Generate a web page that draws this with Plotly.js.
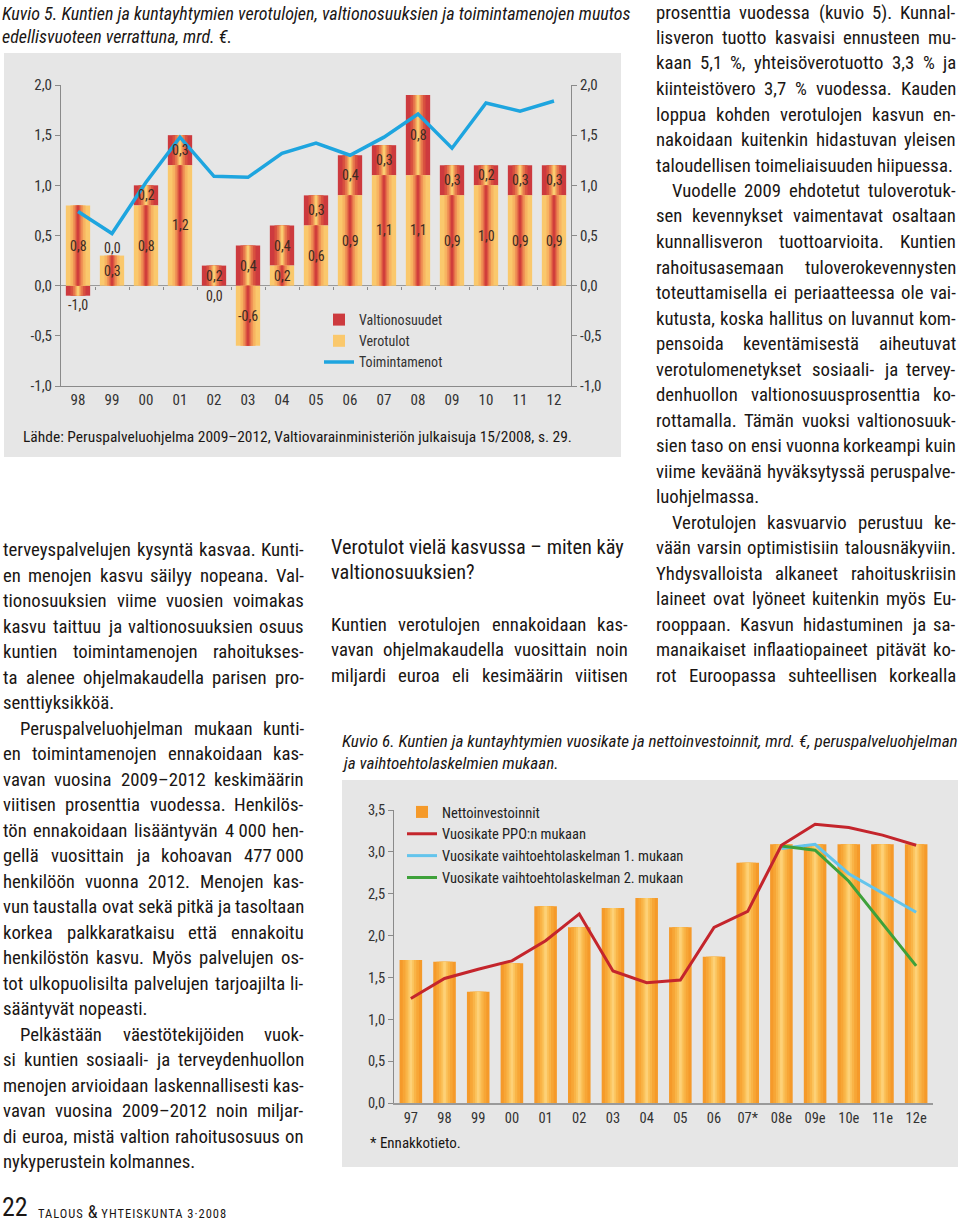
<!DOCTYPE html>
<html><head><meta charset="utf-8">
<script src="https://cdn.plot.ly/plotly-3.0.1.min.js"></script>
<style>html,body{margin:0;padding:0;background:#fff}#chart{width:960px;height:1223px}</style>
</head><body><div id="chart"></div>
<script>
// ---------- DATA: Kuvio 5 ----------
const years5 = ['98','99','00','01','02','03','04','05','06','07','08','09','10','11','12'];
const verotulot = [0.8,0.3,0.8,1.2,0.0,-0.6,0.2,0.6,0.9,1.1,1.1,0.9,1.0,0.9,0.9];
const valtionosuudet = [-0.1,0.0,0.2,0.3,0.2,0.4,0.4,0.3,0.4,0.3,0.8,0.3,0.2,0.3,0.3];
const verotulotLabels = ['0,8','0,3','0,8','1,2','0,0','-0,6','0,2','0,6','0,9','1,1','1,1','0,9','1,0','0,9','0,9'];
const valtionosuudetLabels = ['-1,0','0,0','0,2','0,3','0,2','0,4','0,4','0,3','0,4','0,3','0,8','0,3','0,2','0,3','0,3'];
const toimintamenot = [0.74,0.52,1.03,1.48,1.09,1.08,1.32,1.42,1.30,1.48,1.71,1.37,1.82,1.74,1.84];
const yTickVals5 = [-1,-0.5,0,0.5,1,1.5,2];
const yTickText5 = ['-1,0','-0,5','0,0','0,5','1,0','1,5','2,0'];

// ---------- DATA: Kuvio 6 ----------
const years6 = ['97','98','99','00','01','02','03','04','05','06','07*','08e','09e','10e','11e','12e'];
const nettoinvestoinnit = [1.71,1.69,1.33,1.67,2.35,2.10,2.33,2.45,2.10,1.75,2.87,3.09,3.09,3.09,3.09,3.09];
const vuosikatePPO = [1.25,1.49,1.60,1.70,1.94,2.26,1.58,1.44,1.47,2.10,2.29,3.08,3.33,3.29,3.20,3.08];
const vuosikateVaiht1 = [null,null,null,null,null,null,null,null,null,null,null,3.04,3.09,2.74,2.51,2.28];
const vuosikateVaiht2 = [null,null,null,null,null,null,null,null,null,null,null,3.07,3.02,2.65,2.15,1.64];
const yTickVals6 = [0,0.5,1,1.5,2,2.5,3,3.5];
const yTickText6 = ['0,0','0,5','1,0','1,5','2,0','2,5','3,0','3,5'];

// ---------- TEXT ----------
const caption5 = ['Kuvio 5. Kuntien ja kuntayhtymien verotulojen, valtionosuuksien ja toimintamenojen muutos',
                  'edellisvuoteen verrattuna, mrd. €.'];
const source5 = 'Lähde: Peruspalveluohjelma 2009–2012, Valtiovarainministeriön julkaisuja 15/2008, s. 29.';
const caption6 = ['Kuvio 6. Kuntien ja kuntayhtymien vuosikate ja nettoinvestoinnit, mrd. €, peruspalveluohjelman',
                  'ja vaihtoehtolaskelmien mukaan.'];
const footnote6 = '* Ennakkotieto.';
const heading = ['Verotulot vielä kasvussa – miten käy', 'valtionosuuksien?'];
const leftParas = [
 {indent:false, end:true, lines:[
  'terveyspalvelujen kysyntä kasvaa. Kunti-',
  'en menojen kasvu säilyy nopeana. Val-',
  'tionosuuksien viime vuosien voimakas',
  'kasvu taittuu ja valtionosuuksien osuus',
  'kuntien toimintamenojen rahoitukses-',
  'ta alenee ohjelmakaudella parisen pro-',
  'senttiyksikköä.']},
 {indent:true, end:true, lines:[
  'Peruspalveluohjelman mukaan kunti-',
  'en toimintamenojen ennakoidaan kas-',
  'vavan vuosina 2009–2012 keskimäärin',
  'viitisen prosenttia vuodessa. Henkilös-',
  'tön ennakoidaan lisääntyvän 4\u00A0000 hen-',
  'gellä vuosittain ja kohoavan 477\u00A0000',
  'henkilöön vuonna 2012. Menojen kas-',
  'vun taustalla ovat sekä pitkä ja tasoltaan',
  'korkea palkkaratkaisu että ennakoitu',
  'henkilöstön kasvu. Myös palvelujen os-',
  'tot ulkopuolisilta palvelujen tarjoajilta li-',
  'sääntyvät nopeasti.']},
 {indent:true, end:true, lines:[
  'Pelkästään väestötekijöiden vuok-',
  'si kuntien sosiaali- ja terveydenhuollon',
  'menojen arvioidaan laskennallisesti kas-',
  'vavan vuosina 2009–2012 noin miljar-',
  'di euroa, mistä valtion rahoitusosuus on',
  'nykyperustein kolmannes.']}
];
const middleParas = [
 {indent:false, end:false, lines:[
  'Kuntien verotulojen ennakoidaan kas-',
  'vavan ohjelmakaudella vuosittain noin',
  'miljardi euroa eli kesimäärin viitisen']}
];
const rightParas = [
 {indent:false, end:true, lines:[
  'prosenttia vuodessa (kuvio 5). Kunnal-',
  'lisveron tuotto kasvaisi ennusteen mu-',
  'kaan 5,1 %, yhteisöverotuotto 3,3 % ja',
  'kiinteistövero 3,7 % vuodessa. Kauden',
  'loppua kohden verotulojen kasvun en-',
  'nakoidaan kuitenkin hidastuvan yleisen',
  'taloudellisen toimeliaisuuden hiipuessa.']},
 {indent:true, end:true, lines:[
  'Vuodelle 2009 ehdotetut tuloverotuk-',
  'sen kevennykset vaimentavat osaltaan',
  'kunnallisveron tuottoarvioita. Kuntien',
  'rahoitusasemaan tuloverokevennysten',
  'toteuttamisella ei periaatteessa ole vai-',
  'kutusta, koska hallitus on luvannut kom-',
  'pensoida keventämisestä aiheutuvat',
  'verotulomenetykset sosiaali- ja tervey-',
  'denhuollon valtionosuusprosenttia ko-',
  'rottamalla. Tämän vuoksi valtionosuuk-',
  'sien taso on ensi vuonna korkeampi kuin',
  'viime keväänä hyväksytyssä peruspalve-',
  'luohjelmassa.']},
 {indent:true, end:false, lines:[
  'Verotulojen kasvuarvio perustuu ke-',
  'vään varsin optimistisiin talousnäkyviin.',
  'Yhdysvalloista alkaneet rahoituskriisin',
  'laineet ovat lyöneet kuitenkin myös Eu-',
  'rooppaan. Kasvun hidastuminen ja sa-',
  'manaikaiset inflaatiopaineet pitävät ko-',
  'rot Euroopassa suhteellisen korkealla']}
];

// ---------- FONT ----------
const W = 960, H = 1223;
const cv = document.createElement('canvas').getContext('2d');
function hasFont(f){
  const t = 'abcdefghijklmnopqrstuvwxyz ÄÖäö 0123456789';
  cv.font = '40px monospace'; const a = cv.measureText(t).width;
  cv.font = '40px "' + f + '", monospace'; const b = cv.measureText(t).width;
  cv.font = '40px serif'; const a2 = cv.measureText(t).width;
  cv.font = '40px "' + f + '", serif'; const b2 = cv.measureText(t).width;
  return a !== b || a2 !== b2;
}
const FAM = ['Liberation Sans Narrow','Roboto Condensed','DejaVu Sans Condensed','Open Sans Condensed','Lato','Roboto','Liberation Sans'].find(hasFont) || 'Liberation Sans';
const FAMCSS = FAM + ', sans-serif';
const TEXT = '#1a1614';
function measure(t, size, italic){
  cv.font = (italic ? 'italic ' : '') + '100px "' + FAM + '", sans-serif';
  return cv.measureText(t).width * size / 100;
}

// ---------- TEXT PLACEMENT ----------
const ann = [];
function txt(t, x, y, size, o){
  o = o || {};
  ann.push({text: o.italic ? '<i>' + t + '</i>' : t, xref:'paper', yref:'paper',
    x: x / W, y: 1 - y / H, xanchor: o.anchor || 'left', yanchor: 'middle',
    showarrow: false, borderpad: 0, borderwidth: 0,
    font: {family: FAMCSS, size: size, color: o.color || TEXT}});
}
function justify(line, x0, x1, y, size){
  const words = line.split(' ');
  if (words.length < 2){ txt(line, x0, y, size); return; }
  const ws = words.map(w => measure(w, size, false));
  const gap = (x1 - x0 - ws.reduce((a, b) => a + b, 0)) / (words.length - 1);
  let x = x0;
  words.forEach((w, k) => {
    if (k === words.length - 1) txt(w, x1, y, size, {anchor: 'right'});
    else txt(w, x, y, size);
    x += ws[k] + gap;
  });
}
function fitBody(paras, width, indent, target){
  let s = target;
  paras.forEach(p => p.lines.forEach((l, k) => {
    if (k === p.lines.length - 1 && p.end) return;
    const words = l.split(' ');
    const sum = words.reduce((a, w) => a + measure(w, 1, false), 0);
    const avail = width - (k === 0 && p.indent ? indent : 0);
    s = Math.min(s, avail / (sum + 0.22 * (words.length - 1)));
  }));
  return s;
}
function fitExact(line, width, maxSize, italic){
  return Math.min(maxSize, width / measure(line, 1, italic));
}
function column(paras, x0, x1, y0, lh, size, indent){
  let y = y0;
  paras.forEach(p => p.lines.forEach((l, k) => {
    const xs = (k === 0 && p.indent) ? x0 + indent : x0;
    if (k === p.lines.length - 1 && p.end) txt(l, xs, y, size);
    else justify(l, xs, x1, y, size);
    y += lh;
  }));
}

const bodySize = Math.min(fitBody(leftParas, 301, 17, 19), fitBody(rightParas, 300, 15.5, 19), fitBody(middleParas, 297, 0, 19));
column(leftParas, 3, 304, 550, 25.5, bodySize, 17);
column(rightParas, 656, 956, 12.5, 25.5, bodySize, 15.5);
column(middleParas, 331, 628, 625, 25.3, bodySize, 0);

const hSize = fitExact(heading[0], 293, 23, false);
txt(heading[0], 331, 547, hSize); txt(heading[1], 331, 572, hSize);

const c5 = fitExact(caption5[0], 634, 18, true);
txt(caption5[0], 2, 13, c5, {italic:true}); txt(caption5[1], 2, 36, c5, {italic:true});
const c6 = fitExact(caption6[0], 616, 18, true);
txt(caption6[0], 342, 741, c6, {italic:true}); txt(caption6[1], 342, 763, c6, {italic:true});

txt(source5, 23, 437, fitExact(source5, 549, 16, false));
txt(footnote6, 370, 1143, 15);
txt('22', 2, 1207, 26);
ann.push({text:'<span style="font-size:12.5px;letter-spacing:1px">TALOUS </span><span style="font-size:18px">&amp;</span><span style="font-size:12.5px;letter-spacing:1px"> YHTEISKUNTA 3·2008</span>',
  xref:'paper', yref:'paper', x: 38 / W, y: 1 - 1211 / H, xanchor:'left', yanchor:'middle', showarrow:false,
  borderpad:0, borderwidth:0, font:{family: FAMCSS, size: 12.5, color: TEXT}});

// ---------- BAR LABELS (Kuvio 5) ----------
const valBase = valtionosuudet.map((v, i) => v >= 0 ? Math.max(verotulot[i], 0) : Math.min(verotulot[i], 0));
years5.forEach((yr, i) => {
  const v = verotulot[i];
  const yv = Math.abs(v) >= 0.15 ? v / 2 : -0.1;
  ann.push({text: verotulotLabels[i], xref:'x', yref:'y', x: i, y: yv, showarrow:false,
    font:{family: FAMCSS, size: 14, color:'#3b2b22'}});
  const w = valtionosuudet[i], b = valBase[i];
  let yw;
  if (Math.abs(w) >= 0.15) yw = b + w / 2;
  else if (w < 0) yw = b + w - 0.09;
  else yw = b + 0.08;
  ann.push({text: valtionosuudetLabels[i], xref:'x', yref:'y', x: i, y: yw, showarrow:false,
    font:{family: FAMCSS, size: 14, color:'#3b2b22'}});
});

// ---------- TRACES ----------
function gradientBars(o){
  return o.colors.map((c, k) => ({
    type:'bar', x: o.x, y: o.y, base: o.base, xaxis: o.xaxis, yaxis: o.yaxis,
    width: o.width * o.fracs[k], marker:{color: c, line:{width:0}},
    name: o.name, legendgroup: o.group, showlegend: k === 0, legend: o.legend,
    legendrank: o.rank, hoverinfo:'skip'
  }));
}
const fr5 = [1, 0.62, 0.42, 0.27, 0.15, 0.06];
const traces = [];
traces.push(...gradientBars({x: years5, y: valtionosuudet, base: valBase, xaxis:'x', yaxis:'y', width:0.715,
  colors:['#cd3a3e','#d8503f','#e4714a','#ef9456','#f7b663','#fbd478'], fracs: fr5,
  name:'Valtionosuudet', group:'val', legend:'legend', rank:1}));
traces.push(...gradientBars({x: years5, y: verotulot, base: years5.map(() => 0), xaxis:'x', yaxis:'y', width:0.715,
  colors:['#fac86c','#f7b461','#f09556','#e5714a','#d9503f','#cc393a'], fracs: fr5,
  name:'Verotulot', group:'vero', legend:'legend', rank:2}));
traces.push({type:'scatter', mode:'lines', x: years5, y: toimintamenot, xaxis:'x', yaxis:'y',
  line:{color:'#1ea5df', width:3.5}, name:'Toimintamenot', legendgroup:'toim', legend:'legend', legendrank:3, hoverinfo:'skip'});
// helper traces for the right-hand axis and the zero-line ticks
traces.push({type:'scatter', mode:'markers', x:[years5[0]], y:[0], xaxis:'x', yaxis:'y3', marker:{opacity:0}, showlegend:false, hoverinfo:'skip'});
traces.push({type:'scatter', mode:'markers', x:[0], y:[0], xaxis:'x3', yaxis:'y', marker:{opacity:0}, showlegend:false, hoverinfo:'skip'});

traces.push(...gradientBars({x: years6, y: nettoinvestoinnit, xaxis:'x2', yaxis:'y2', width:0.67,
  colors:['#f59a2a','#f7a636','#f9b447','#fbc35c','#fdd177'], fracs:[1, 0.72, 0.48, 0.28, 0.12],
  name:'Nettoinvestoinnit', group:'netto', legend:'legend2', rank:1}));
traces.push({type:'scatter', mode:'lines', x: years6, y: vuosikateVaiht1, xaxis:'x2', yaxis:'y2',
  line:{color:'#63c4ec', width:3}, name:'Vuosikate vaihtoehtolaskelman 1. mukaan', legendgroup:'v1', legend:'legend2', legendrank:3, hoverinfo:'skip'});
traces.push({type:'scatter', mode:'lines', x: years6, y: vuosikateVaiht2, xaxis:'x2', yaxis:'y2',
  line:{color:'#3ea13a', width:3}, name:'Vuosikate vaihtoehtolaskelman 2. mukaan', legendgroup:'v2', legend:'legend2', legendrank:4, hoverinfo:'skip'});
traces.push({type:'scatter', mode:'lines', x: years6, y: vuosikatePPO, xaxis:'x2', yaxis:'y2',
  line:{color:'#c4252c', width:3}, name:'Vuosikate PPO:n mukaan', legendgroup:'ppo', legend:'legend2', legendrank:2, hoverinfo:'skip'});

// ---------- LAYOUT ----------
const px = v => v / W, py = v => 1 - v / H;
const tickFont = {family: FAMCSS, size: 15, color:'#333'};
const layout = {
  width: W, height: H, autosize:false, margin:{l:0,r:0,t:0,b:0},
  paper_bgcolor:'#ffffff', plot_bgcolor:'rgba(0,0,0,0)',
  font:{family: FAMCSS, color: TEXT},
  barmode:'overlay', showlegend:true,
  xaxis:{domain:[px(61), px(571)], anchor:'y', type:'category', range:[-0.5, 14.5],
    showline:true, linecolor:'#8a8a8a', linewidth:1, ticks:'', showgrid:false, zeroline:false,
    tickfont: tickFont, fixedrange:true},
  yaxis:{domain:[py(386), py(85)], anchor:'x', range:[-1, 2], tickvals: yTickVals5, ticktext: yTickText5,
    showline:true, linecolor:'#8a8a8a', linewidth:1, ticks:'outside', ticklen:5, tickcolor:'#8a8a8a',
    showgrid:false, zeroline:true, zerolinecolor:'#9a9a9a', zerolinewidth:1, tickfont: tickFont},
  yaxis3:{overlaying:'y', anchor:'x', side:'right', range:[-1, 2], tickvals: yTickVals5, ticktext: yTickText5,
    showline:true, linecolor:'#8a8a8a', linewidth:1, ticks:'outside', ticklen:5, tickcolor:'#8a8a8a',
    showgrid:false, zeroline:false, tickfont: tickFont},
  xaxis3:{overlaying:'x', anchor:'free', position: py(285.7), side:'bottom', range:[-0.5, 14.5],
    tickvals: years5.slice(1).map((_, i) => i + 0.5), ticks:'outside', ticklen:3, tickcolor:'#8a8a8a',
    showticklabels:false, showline:false, showgrid:false, zeroline:false},
  xaxis2:{domain:[px(394), px(933)], anchor:'y2', type:'category', range:[-0.5, 15.5],
    showline:true, linecolor:'#9a9a9a', linewidth:2, ticks:'', showgrid:false, zeroline:false,
    tickfont:{family: FAMCSS, size: 14.5, color:'#333'}},
  yaxis2:{domain:[py(1103.3), py(810)], anchor:'x2', range:[0, 3.5], tickvals: yTickVals6, ticktext: yTickText6,
    showline:true, linecolor:'#8a8a8a', linewidth:1, ticks:'outside', ticklen:5, tickcolor:'#8a8a8a',
    showgrid:false, zeroline:false, tickfont:{family: FAMCSS, size: 14.5, color:'#333'}},
  legend:{x: px(319), y: py(304), xanchor:'left', yanchor:'top', bgcolor:'rgba(0,0,0,0)',
    font:{family: FAMCSS, size: 14, color:'#333'}, traceorder:'grouped', tracegroupgap:0},
  legend2:{x: px(402), y: py(796), xanchor:'left', yanchor:'top', bgcolor:'rgba(0,0,0,0)',
    font:{family: FAMCSS, size: 14.5, color:'#222'}, traceorder:'grouped', tracegroupgap:0},
  shapes:[
    {type:'rect', xref:'paper', yref:'paper', x0: px(4), x1: px(621), y0: py(457), y1: py(53),
      fillcolor:'#e6e6e6', line:{width:0}, layer:'below'},
    {type:'rect', xref:'paper', yref:'paper', x0: px(342), x1: px(958), y0: py(1167), y1: py(780),
      fillcolor:'#e6e6e6', line:{width:0}, layer:'below'}
  ],
  annotations: ann
};
Plotly.newPlot('chart', traces, layout, {staticPlot:true, displayModeBar:false});
</script>
</body></html>
